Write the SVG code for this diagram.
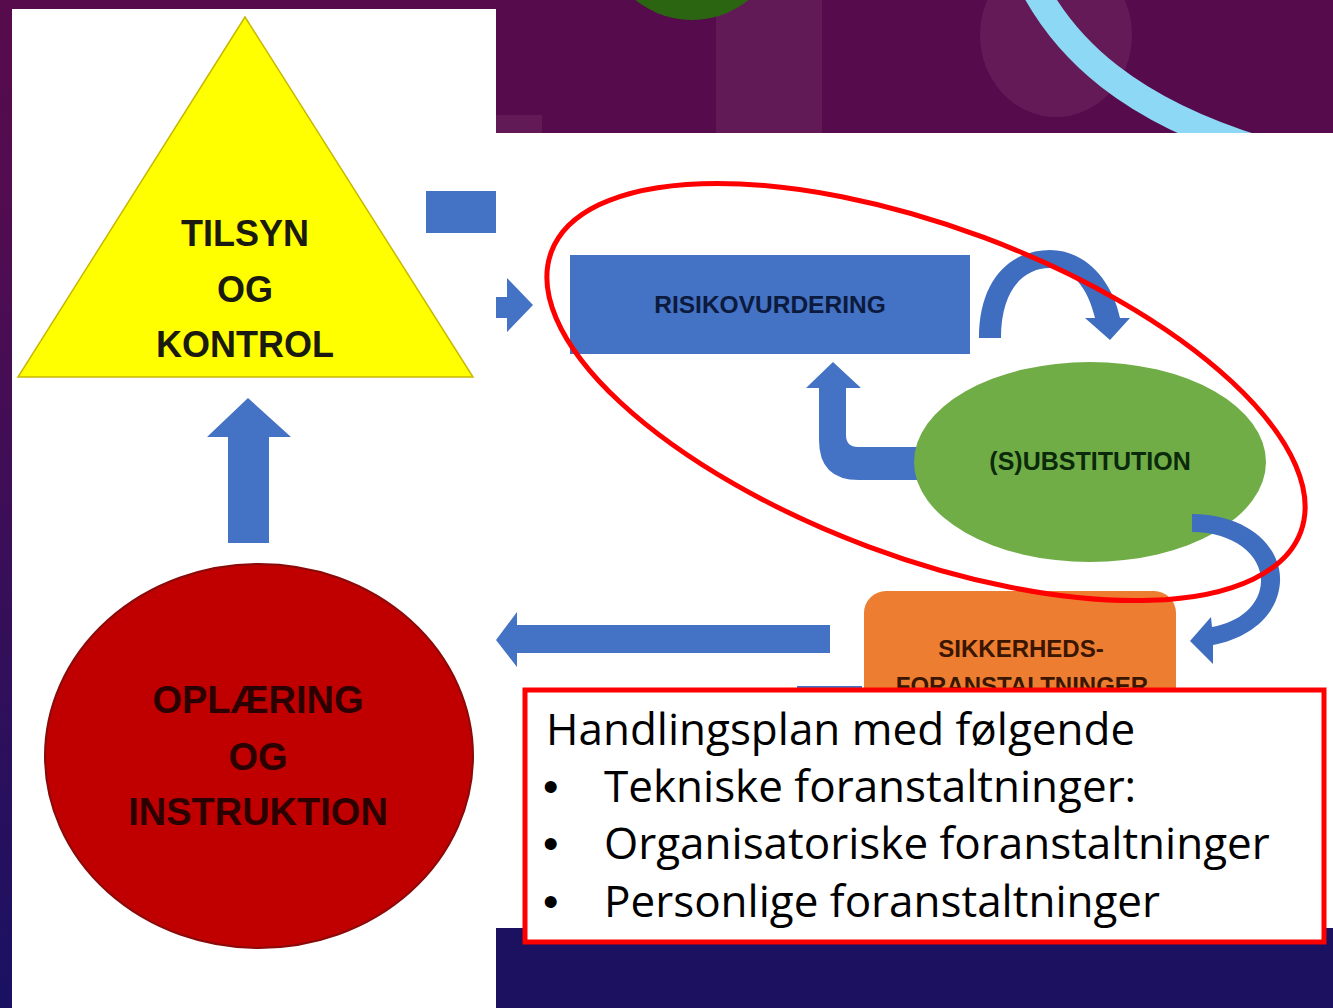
<svg xmlns="http://www.w3.org/2000/svg" width="1333" height="1008" viewBox="0 0 1333 1008">
  <defs>
    <linearGradient id="bg" x1="0" y1="0" x2="0" y2="1">
      <stop offset="0" stop-color="#570b4d"/>
      <stop offset="0.2" stop-color="#520c50"/>
      <stop offset="1" stop-color="#1a1162"/>
    </linearGradient>
  </defs>
  <style>
    .lbl { font-family: "Liberation Sans", Arial, sans-serif; font-weight: bold; text-anchor: middle; }
    .blue { fill: #4472c4; }
    .cblue { fill: #3f6dbf; }
    .plan { font-family: "Open Sans", "Liberation Sans", sans-serif; font-size: 44px; fill: #000000; }
    .bul { font-family: "Liberation Sans", Arial, sans-serif; font-size: 44px; fill: #000000; }
  </style>

  <!-- background -->
  <g id="background">
    <rect x="0" y="0" width="1333" height="1008" fill="url(#bg)"/>
    <rect x="496" y="0" width="837" height="133" fill="#560b4c"/>
    <rect x="496" y="928" width="837" height="80" fill="#1b1160"/>
    <rect x="716" y="0" width="106" height="133" fill="#621a57"/>
    <circle cx="692" cy="-70" r="90" fill="#2b6512"/>
    <ellipse cx="1056" cy="35" rx="76" ry="82" fill="#631a56"/>
    <path d="M1030,-20 C1065,50 1130,110 1260,150" fill="none" stroke="#8dd8f5" stroke-width="27"/>
    <rect x="496" y="115" width="46" height="18" fill="#621a57"/>
    <rect x="12" y="9" width="484" height="999" fill="#ffffff"/>
    <rect x="496" y="133" width="837" height="795" fill="#ffffff"/>
  </g>

  <!-- connectors -->
  <g id="connectors">
    <rect class="blue" x="426" y="191" width="70" height="42"/>
    <polygon class="blue" points="496,297 507,297 507,278 533,305 507,332 507,318 496,318"/>
    <polygon class="blue" points="228,543 228,437 207,437 248,398 291,437 269,437 269,543"/>
    <polygon class="blue" points="830,625 517,625 517,612 496,640 517,667 517,653 830,653"/>
    <rect class="blue" x="797" y="686" width="65" height="10"/>
    <path class="cblue" d="M979,338 C979,280 1010,250 1050,250 C1085,250 1112,280 1120,318 L1130,318 L1110,340 L1085,318 L1095,318 C1088,288 1072,268 1050,268 C1022,268 1001,292 1001,338 Z"/>
    <path class="blue" d="M917,447 L858,447 Q846,447 846,435 L846,388 L861,388 L833,362 L806,388 L819,388 L819,440 Q819,480 859,480 L917,480 Z"/>
  </g>

  <!-- nodes -->
  <g id="node-tilsyn">
    <polygon points="245,17 473,377 18,377" fill="#ffff00" stroke="#c8b900" stroke-width="1.5"/>
    <text class="lbl" x="245" y="246" font-size="36" fill="#1a1a10">TILSYN</text>
    <text class="lbl" x="245" y="302" font-size="36" fill="#1a1a10">OG</text>
    <text class="lbl" x="245" y="357" font-size="36" fill="#1a1a10">KONTROL</text>
  </g>

  <g id="node-oplaering">
    <ellipse cx="259" cy="756" rx="214" ry="192" fill="#c00000" stroke="#8a0a0a" stroke-width="2"/>
    <text class="lbl" x="258" y="713" font-size="38" fill="#2a0000">OPLÆRING</text>
    <text class="lbl" x="258" y="770" font-size="38" fill="#2a0000">OG</text>
    <text class="lbl" x="258" y="825" font-size="38" fill="#2a0000">INSTRUKTION</text>
  </g>

  <g id="node-risikovurdering">
    <rect x="570" y="255" width="400" height="99" fill="#4472c4"/>
    <text class="lbl" x="770" y="313" font-size="24.5" fill="#0b1a3d">RISIKOVURDERING</text>
  </g>

  <g id="node-substitution">
    <ellipse cx="1090" cy="462" rx="176" ry="100" fill="#70ad47"/>
    <text class="lbl" x="1090" y="470" font-size="25" fill="#0b2a0b">(S)UBSTITUTION</text>
  </g>

  <g id="node-sikkerheds">
    <rect x="864" y="591" width="312" height="160" rx="22" ry="22" fill="#ed7d31"/>
    <text class="lbl" x="1021" y="657" font-size="24" fill="#3a1500">SIKKERHEDS-</text>
    <text class="lbl" x="1022" y="694" font-size="24" fill="#3a1500">FORANSTALTNINGER</text>
  </g>

  <g id="connector-sub-to-sik">
    <path class="cblue" d="M1192,514 C1245,514 1282,545 1280,582 C1278,615 1250,638 1213,645 L1213,664 L1190,641 L1211,617 L1212,627 C1240,622 1260,605 1261,582 C1262,556 1235,532 1192,532 Z"/>
  </g>

  <!-- annotations -->
  <g id="highlight-ellipse">
    <ellipse cx="926" cy="392" rx="400" ry="165" transform="rotate(20.5 926 392)" fill="none" stroke="#ff0000" stroke-width="5"/>
  </g>

  <g id="node-handlingsplan">
    <rect x="525" y="690" width="799" height="252" fill="#ffffff" stroke="#ff0000" stroke-width="5"/>
    <text class="plan" x="546" y="745">Handlingsplan med følgende</text>
    <text class="bul" x="543" y="802">•</text>
    <text class="plan" x="604" y="802">Tekniske foranstaltninger:</text>
    <text class="bul" x="543" y="859">•</text>
    <text class="plan" x="604" y="859">Organisatoriske foranstaltninger</text>
    <text class="bul" x="543" y="917">•</text>
    <text class="plan" x="604" y="917">Personlige foranstaltninger</text>
  </g>
</svg>
